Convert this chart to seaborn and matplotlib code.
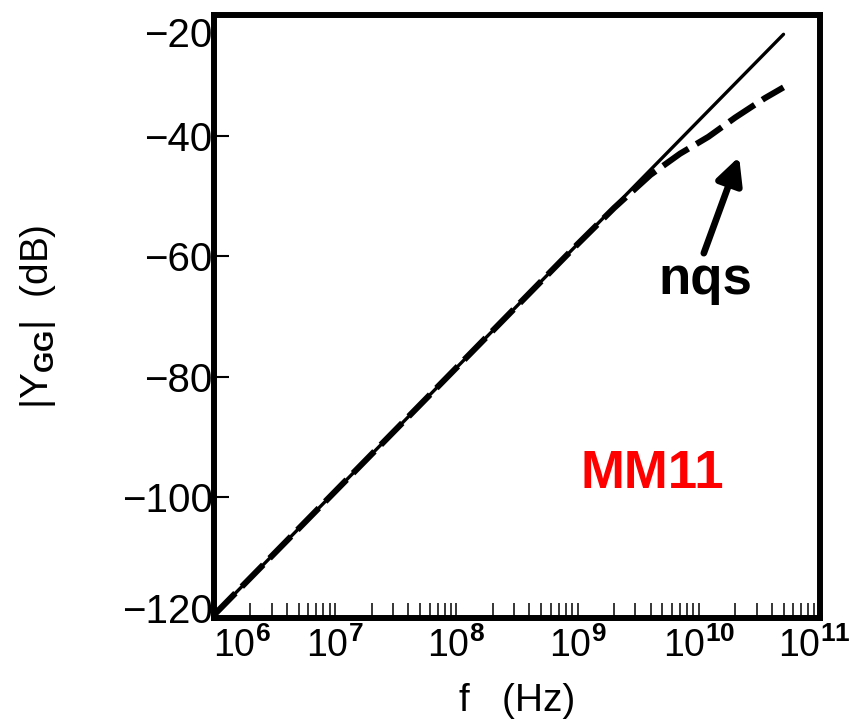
import numpy as np
import pandas as pd
import matplotlib
matplotlib.use("Agg")
import matplotlib.pyplot as plt
import matplotlib.ticker as mticker
from matplotlib.transforms import ScaledTranslation
import seaborn as sns

# ---- data ----
freq_qs = [1e6, 1e7, 1e8, 1e9, 1e10, 5e10]
ygg_qs = [-119.5, -99.0, -78.5, -58.0, -37.5, -23.2]

freq_nqs = [1e6, 1e7, 1e8, 1e9, 2e9, 4e9, 7e9, 1.2e10, 2e10, 3.5e10, 5e10]
ygg_nqs = [-119.5, -99.0, -78.5, -58.0, -52.0, -46.5, -43.0, -40.2, -37.0, -33.8, -32.0]

x_major = [1e6, 1e7, 1e8, 1e9, 1e10, 1e11]
x_labels = [r"$\mathregular{10}^{\mathbf{6}}$", r"$\mathregular{10}^{\mathbf{7}}$",
            r"$\mathregular{10}^{\mathbf{8}}$", r"$\mathregular{10}^{\mathbf{9}}$",
            r"$\mathregular{10}^{\mathbf{10}}$", r"$\mathregular{10}^{\mathbf{11}}$"]
y_ticks = [-120, -100, -80, -60, -40, -20]

sns.set_style("white")
plt.rcParams["font.family"] = ["Liberation Sans", "DejaVu Sans"]
plt.rcParams["mathtext.fontset"] = "custom"
plt.rcParams["mathtext.rm"] = "Liberation Sans"
plt.rcParams["mathtext.bf"] = "Liberation Sans:bold"
plt.rcParams["mathtext.it"] = "Liberation Sans:italic"
for k in ["text.color", "axes.labelcolor", "xtick.color", "ytick.color", "axes.edgecolor"]:
    plt.rcParams[k] = "black"

fig = plt.figure(figsize=(8.52, 7.28), dpi=100)
ax = fig.add_axes([214 / 852, 110 / 728, 606 / 852, 603 / 728])

df_qs = pd.DataFrame({"f": freq_qs, "y": ygg_qs})
df_nqs = pd.DataFrame({"f": freq_nqs, "y": ygg_nqs})

sns.lineplot(data=df_qs, x="f", y="y", ax=ax, color="black", linewidth=2.4, zorder=3)
sns.lineplot(data=df_nqs, x="f", y="y", ax=ax, color="black", linewidth=4.4, zorder=4)
ax.lines[-1].set_dashes((5.0, 1.5))
ax.lines[-1].set_dash_capstyle("butt")

ax.set_xscale("log")
ax.set_xlim(1e6, 1e11)
ax.set_ylim(-120, -20)

ax.xaxis.set_major_locator(mticker.FixedLocator(x_major))
ax.xaxis.set_minor_locator(mticker.LogLocator(base=10, subs=np.arange(2, 10), numticks=50))
ax.xaxis.set_minor_formatter(mticker.NullFormatter())
ax.set_xticks(x_major)
ax.set_xticklabels(x_labels)
ax.set_yticks(y_ticks)
ax.set_yticklabels([f"\u2212{abs(v)}" for v in y_ticks])

ax.tick_params(axis="x", which="both", direction="in", length=10.8, width=1.1,
               colors="black", top=False, bottom=True, labelsize=27, pad=7)
ax.tick_params(axis="y", which="both", direction="in", length=10.5, width=1.5,
               colors="black", left=True, right=False, labelsize=29, pad=1)

for s in ax.spines.values():
    s.set_linewidth(4.3)
    s.set_color("black")
    s.set_visible(True)

ax.set_xlabel("f   (Hz)", fontsize=28, labelpad=13)
ax.set_ylabel(r"$|\mathregular{Y}_{\mathbf{GG}}|$  (dB)", fontsize=28, labelpad=46)

# annotations
ax.text(0.81, 0.56, "nqs", transform=ax.transAxes, fontsize=38, fontweight="bold",
        ha="center", va="center", color="black")
ax.text(0.723, 0.239, "MM11", transform=ax.transAxes, fontsize=38, fontweight="bold",
        ha="center", va="center", color="#ff0000")
ax.annotate("", xy=(2.15e10, -43.5), xytext=(1.1e10, -59.5),
            arrowprops=dict(arrowstyle="-|>,head_length=1.6,head_width=0.8",
                            color="black", lw=4.8, shrinkA=0, shrinkB=0))

# nudge a few edge labels like the reference
fig.canvas.draw()
xl = ax.get_xticklabels()
xl[0].set_transform(xl[0].get_transform() + ScaledTranslation(0.28, 0, fig.dpi_scale_trans))
xl[-1].set_transform(xl[-1].get_transform() + ScaledTranslation(-0.06, 0, fig.dpi_scale_trans))
yl = ax.get_yticklabels()
yl[-1].set_transform(yl[-1].get_transform() + ScaledTranslation(0, -0.17, fig.dpi_scale_trans))
yl[0].set_transform(yl[0].get_transform() + ScaledTranslation(0, 0.10, fig.dpi_scale_trans))

fig.savefig("out.png", dpi=100)
